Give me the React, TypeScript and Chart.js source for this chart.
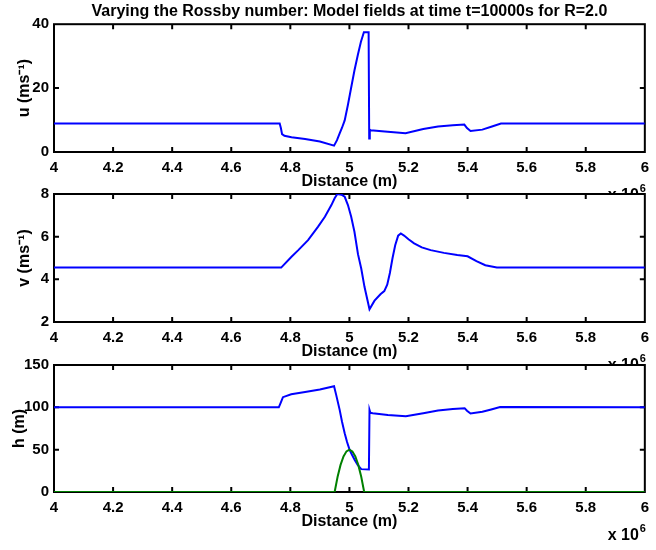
import React, { useEffect, useRef } from "react";
import { Chart, registerables } from "chart.js";

Chart.register(...registerables);

// ---------- text ----------
const titleText = "Varying the Rossby number: Model fields at time t=10000s for R=2.0";
const xLabel = "Distance (m)";
const uLabel = "u (ms\u207B\u00B9)";
const vLabel = "v (ms\u207B\u00B9)";
const hLabel = "h (m)";

// ---------- ticks ----------
const xTicks = [4, 4.2, 4.4, 4.6, 4.8, 5, 5.2, 5.4, 5.6, 5.8, 6];
const uTicks = [0, 20, 40];
const vTicks = [2, 4, 6, 8];
const hTicks = [0, 50, 100, 150];

// ---------- data (distance in units of 10^6 m) ----------
const uDist = [4, 4.764, 4.768, 4.772, 4.78, 4.804, 4.85, 4.9, 4.948, 4.958, 4.967, 4.975, 4.984, 4.995, 5.006, 5.017, 5.029, 5.039, 5.049, 5.065, 5.067, 5.069, 5.072, 5.12, 5.19, 5.25, 5.3, 5.35, 5.389, 5.398, 5.41, 5.45, 5.48, 5.513, 6];
const uVals = [8.9, 8.9, 7.5, 5.6, 5.1, 4.6, 4.1, 3.3, 2.0, 3.7, 5.8, 7.6, 9.9, 14.8, 20.2, 25.5, 30.6, 34.5, 37.5, 37.5, 4.2, 7.0, 6.8, 6.4, 5.9, 7.2, 8.0, 8.4, 8.6, 7.5, 6.6, 7.0, 7.9, 8.9, 8.9];

const vDist = [4, 4.769, 4.804, 4.827, 4.86, 4.894, 4.917, 4.939, 4.95, 4.959, 4.973, 4.984, 4.995, 5.006, 5.017, 5.029, 5.04, 5.051, 5.068, 5.085, 5.105, 5.118, 5.128, 5.137, 5.146, 5.155, 5.165, 5.174, 5.185, 5.2, 5.219, 5.245, 5.275, 5.32, 5.365, 5.4, 5.43, 5.46, 5.499, 6];
const vVals = [4.55, 4.55, 5.06, 5.37, 5.84, 6.47, 6.93, 7.48, 7.8, 8.0, 7.97, 7.87, 7.48, 6.93, 6.23, 5.18, 4.51, 3.65, 2.6, 3.0, 3.3, 3.45, 3.75, 4.3, 5.0, 5.6, 6.05, 6.15, 6.05, 5.88, 5.69, 5.5, 5.37, 5.24, 5.14, 5.08, 4.85, 4.66, 4.55, 4.55];

const hDist = [4, 4.761, 4.768, 4.775, 4.803, 4.85, 4.9, 4.948, 4.955, 4.967, 4.975, 4.984, 4.992, 5.001, 5.01, 5.018, 5.028, 5.04, 5.066, 5.068, 5.071, 5.079, 5.13, 5.191, 5.25, 5.3, 5.35, 5.39, 5.398, 5.41, 5.45, 5.48, 5.51, 6];
const hVals = [100, 100, 106, 112, 115.5, 118, 121, 125, 115, 97, 83, 69.4, 59, 49.6, 43, 37.8, 32, 27, 26.5, 97, 93.5, 93, 91, 89.6, 93, 96.2, 98, 99, 96, 92.7, 94.7, 97.5, 100.3, 100];

const bDist = [4, 4.95, 4.96, 4.97, 4.98, 4.99, 5.0, 5.01, 5.02, 5.03, 5.04, 5.05, 6];
const bVals = [0, 0, 18, 32, 42, 48, 50, 48, 42, 32, 18, 0, 0];

// ---------- styling ----------
const FONT = '"Liberation Sans", Arial, Helvetica, sans-serif';
const BLUE = "#0000ff";
const GREEN = "#008000";

type Series = { x: number[]; y: number[]; color: string; order: number };
type Panel = {
  top: number;
  height: number;
  padTop: number;
  yMin: number;
  yMax: number;
  yTicks: number[];
  yLabel: string;
  yTitlePad: number;
  series: Series[];
  title?: string;
};

const X_SCALE_H = 58;

const PANELS: Panel[] = [
  {
    top: 0, height: 210, padTop: 0, yMin: 0, yMax: 40, yTicks: uTicks, yLabel: uLabel, yTitlePad: 15.4,
    series: [{ x: uDist, y: uVals, color: BLUE, order: 0 }], title: titleText,
  },
  {
    top: 185, height: 195, padTop: 9, yMin: 2, yMax: 8, yTicks: vTicks, yLabel: vLabel, yTitlePad: 15.4,
    series: [{ x: vDist, y: vVals, color: BLUE, order: 0 }],
  },
  {
    top: 355, height: 195, padTop: 10, yMin: 0, yMax: 150, yTicks: hTicks, yLabel: hLabel, yTitlePad: 10,
    series: [
      { x: hDist, y: hVals, color: BLUE, order: 1 },
      { x: bDist, y: bVals, color: GREEN, order: 0 },
    ],
  },
];

const matlabAxes = {
  id: "matlabAxes",
  beforeDraw(chart: any) {
    const { ctx, chartArea: a } = chart;
    ctx.save();
    ctx.fillStyle = "#ffffff";
    ctx.fillRect(a.left - 1, a.top - 1, a.right - a.left + 2, a.bottom - a.top + 2);
    ctx.restore();
  },
  beforeDatasetsDraw(chart: any) {
    const { ctx, chartArea: a, scales } = chart;
    const tl = 5;
    ctx.save();
    ctx.strokeStyle = "#000";
    ctx.lineWidth = 2;
    ctx.strokeRect(a.left, a.top, a.right - a.left, a.bottom - a.top);
    ctx.beginPath();
    for (const t of scales.x.ticks) {
      const px = scales.x.getPixelForValue(t.value);
      if (px <= a.left + 1 || px >= a.right - 1) continue;
      ctx.moveTo(px, a.bottom);
      ctx.lineTo(px, a.bottom - tl);
      ctx.moveTo(px, a.top);
      ctx.lineTo(px, a.top + tl);
    }
    for (const t of scales.y.ticks) {
      const py = scales.y.getPixelForValue(t.value);
      if (py <= a.top + 1 || py >= a.bottom - 1) continue;
      ctx.moveTo(a.left, py);
      ctx.lineTo(a.left + tl, py);
      ctx.moveTo(a.right, py);
      ctx.lineTo(a.right - tl, py);
    }
    ctx.stroke();
    ctx.restore();
  },
  afterDraw(chart: any) {
    const { ctx, chartArea: a } = chart;
    ctx.save();
    ctx.fillStyle = "#000";
    ctx.textBaseline = "alphabetic";
    ctx.font = `bold 16px ${FONT}`;
    ctx.textAlign = "right";
    const base = a.bottom + 48;
    ctx.fillText("x 10", a.right - 6, base);
    ctx.font = `bold 11px ${FONT}`;
    ctx.textAlign = "left";
    ctx.fillText("6", a.right - 5, base - 8);
    ctx.restore();
  },
};

function buildConfig(p: Panel): any {
  const tickFont = { family: FONT, size: 15, weight: "bold" as const, lineHeight: 1.2 };
  const labelFont = { family: FONT, size: 16, weight: "bold" as const, lineHeight: 1.2 };
  return {
    type: "line",
    data: {
      datasets: p.series.map((s) => ({
        data: s.x.map((x, i) => ({ x, y: s.y[i] })),
        borderColor: s.color,
        backgroundColor: s.color,
        borderWidth: 2,
        pointRadius: 0,
        tension: 0,
        fill: false,
        order: s.order,
      })),
    },
    options: {
      animation: false,
      responsive: false,
      devicePixelRatio: 1,
      layout: { padding: { top: p.padTop, right: 7, left: 0, bottom: 0 } },
      plugins: {
        legend: { display: false },
        tooltip: { enabled: false },
        title: p.title
          ? {
              display: true,
              text: p.title,
              fullSize: false,
              color: "#000",
              font: labelFont,
              padding: { top: 2, bottom: 3 },
            }
          : { display: false },
      },
      scales: {
        x: {
          type: "linear",
          min: 4,
          max: 6,
          afterBuildTicks: (s: any) => {
            s.ticks = xTicks.map((value) => ({ value }));
          },
          afterFit: (s: any) => {
            s.height = X_SCALE_H;
          },
          grid: { display: false, drawTicks: false },
          border: { display: false },
          ticks: {
            autoSkip: false,
            maxRotation: 0,
            padding: 7,
            color: "#000",
            font: tickFont,
            callback: (v: any) => String(v),
          },
          title: {
            display: true,
            text: xLabel,
            color: "#000",
            font: labelFont,
            padding: { top: 0, bottom: 19 },
          },
        },
        y: {
          type: "linear",
          min: p.yMin,
          max: p.yMax,
          afterBuildTicks: (s: any) => {
            s.ticks = p.yTicks.map((value) => ({ value }));
          },
          afterFit: (s: any) => {
            s.width = 54;
          },
          grid: { display: false, drawTicks: false },
          border: { display: false },
          ticks: {
            autoSkip: false,
            padding: 5,
            color: "#000",
            font: { ...tickFont, lineHeight: 0.4 },
            callback: (v: any) => String(v),
          },
          title: {
            display: true,
            text: p.yLabel,
            color: "#000",
            font: labelFont,
            padding: { top: p.yTitlePad, bottom: 0 },
          },
        },
      },
    },
    plugins: [matlabAxes],
  };
}

export default function App() {
  const refs = useRef<(HTMLCanvasElement | null)[]>([]);
  useEffect(() => {
    const charts = PANELS.map((p, i) => new Chart(refs.current[i] as HTMLCanvasElement, buildConfig(p)));
    return () => charts.forEach((c) => c.destroy());
  }, []);
  return (
    <div style={{ position: "absolute", left: 0, top: 0, width: 656, height: 550, background: "#fff" }}>
      {PANELS.map((p, i) => (
        <canvas
          key={i}
          ref={(el) => {
            refs.current[i] = el;
          }}
          width={656}
          height={p.height}
          style={{ position: "absolute", left: 0, top: p.top, width: 656, height: p.height, display: "block" }}
        />
      ))}
    </div>
  );
}
